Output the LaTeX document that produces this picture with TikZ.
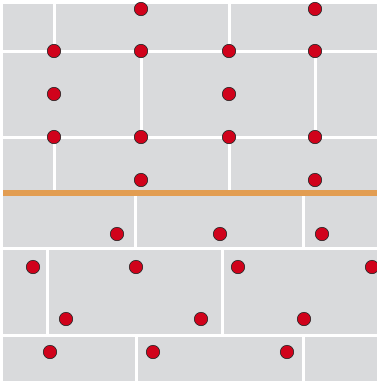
\documentclass[tikz,border=0pt]{standalone}
\definecolor{wallgray}{HTML}{D9DADC}
\definecolor{dotred}{HTML}{D0021B}
\definecolor{bandorange}{HTML}{E29D52}
\begin{document}
\begin{tikzpicture}[x=1pt,y=-1pt,
  joint/.style={draw=white,line width=3pt},
  dot/.style={circle,fill=dotred,draw=black!85,line width=0.6pt,minimum size=13.4pt,inner sep=0pt}]
\useasboundingbox (0,0) rectangle (377,381);
\fill[white] (0,0) rectangle (377,381);
\fill[wallgray] (3,4) rectangle (377,381);
% upper wall joints
\draw[joint] (3,51) -- (377,51);
\draw[joint] (3,137) -- (377,137);
\draw[joint] (54,4) -- (54,51);
\draw[joint] (54,137) -- (54,190);
\draw[joint] (141,51) -- (141,137);
\draw[joint] (229,4) -- (229,51);
\draw[joint] (229,137) -- (229,190);
\draw[joint] (315,51) -- (315,137);
% band
\fill[bandorange] (3,190) rectangle (377,196);
% lower wall joints
\draw[joint] (3,248) -- (377,248);
\draw[joint] (3,335) -- (377,335);
\draw[joint] (135,196) -- (135,248);
\draw[joint] (303,196) -- (303,248);
\draw[joint] (47,248) -- (47,335);
\draw[joint] (222,248) -- (222,335);
\draw[joint] (136,335) -- (136,381);
\draw[joint] (303,335) -- (303,381);
% upper dots
\node[dot] (u1) at (141,9) {};
\node[dot] (u2) at (315,9) {};
\node[dot] (u3) at (54,51) {};
\node[dot] (u4) at (141,51) {};
\node[dot] (u5) at (229,51) {};
\node[dot] (u6) at (315,51) {};
\node[dot] (u7) at (54,94) {};
\node[dot] (u8) at (229,94) {};
\node[dot] (u9) at (54,137) {};
\node[dot] (u10) at (141,137) {};
\node[dot] (u11) at (229,137) {};
\node[dot] (u12) at (315,137) {};
\node[dot] (u13) at (141,180) {};
\node[dot] (u14) at (315,180) {};
% lower dots
\node[dot] (l1) at (117,234) {};
\node[dot] (l2) at (220,234) {};
\node[dot] (l3) at (322,234) {};
\node[dot] (l4) at (33,267) {};
\node[dot] (l5) at (136,267) {};
\node[dot] (l6) at (238,267) {};
\node[dot] (l7) at (372,267) {};
\node[dot] (l8) at (66,319) {};
\node[dot] (l9) at (201,319) {};
\node[dot] (l10) at (304,319) {};
\node[dot] (l11) at (50,352) {};
\node[dot] (l12) at (153,352) {};
\node[dot] (l13) at (287,352) {};
\end{tikzpicture}
\end{document}
